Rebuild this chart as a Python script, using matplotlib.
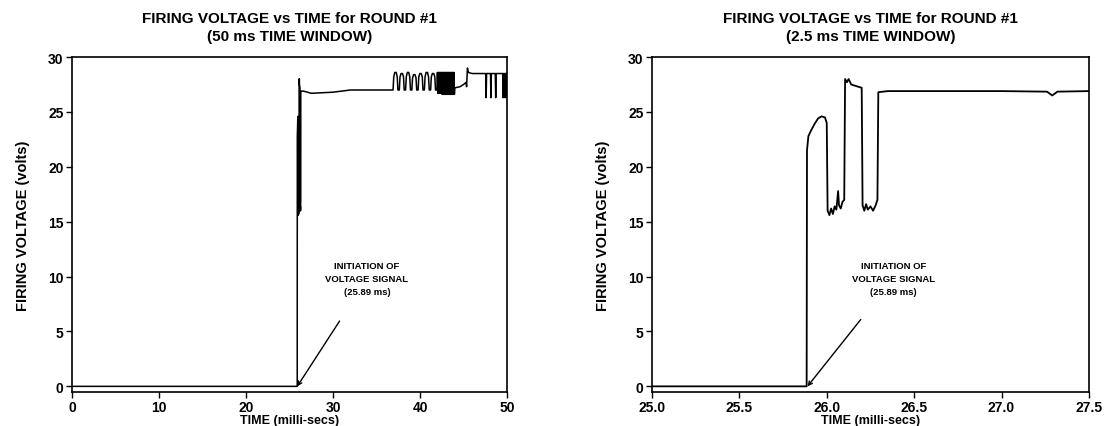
import matplotlib
matplotlib.use("Agg")
import matplotlib.pyplot as plt
import numpy as np

plt.rcParams['font.family'] = ['Liberation Sans', 'DejaVu Sans']
plt.rcParams['font.weight'] = 'bold'

# ---- data ----
# initiation and early transient (shared by both panels)
onset_t = [25.000, 25.885, 25.887, 25.895, 25.910, 25.930, 25.950, 25.970, 25.990, 26.000,
           26.005, 26.015, 26.025, 26.035, 26.045, 26.055, 26.065, 26.070, 26.080, 26.090,
           26.100, 26.105, 26.115, 26.125, 26.140, 26.160, 26.180, 26.200, 26.205, 26.215,
           26.225, 26.235, 26.250, 26.265, 26.280, 26.290, 26.295, 26.350]
onset_v = [0.0, 0.0, 21.5, 22.8, 23.3, 23.9, 24.4, 24.6, 24.5, 24.0,
           16.0, 15.6, 16.2, 15.7, 16.4, 16.1, 17.8, 16.5, 16.2, 16.8,
           17.0, 28.0, 27.7, 28.0, 27.5, 27.4, 27.3, 27.2, 16.5, 16.0,
           16.6, 16.1, 16.4, 16.0, 16.5, 17.0, 26.8, 26.9]

# steady level in the 2.5 ms window
steady_t = [26.60, 27.00, 27.26, 27.29, 27.32, 27.50]
steady_v = [26.9, 26.9, 26.85, 26.5, 26.85, 26.9]

# 50 ms window, after transient
plateau_t = [0.0, 25.885]
plateau_v = [0.0, 0.0]
flat_t = [26.6, 27.5, 30.0, 32.0, 36.90]
flat_v = [26.9, 26.7, 26.8, 27.0, 27.0]
ring_t = [36.98, 37.10, 37.26, 37.38, 37.46, 37.62, 37.70, 37.82, 37.98, 38.10, 38.18,
          38.34, 38.42, 38.54, 38.70, 38.82, 38.90, 39.06, 39.14, 39.26, 39.42, 39.54,
          39.62, 39.78, 39.86, 39.98, 40.14, 40.26, 40.34, 40.50, 40.58, 40.70, 40.86,
          40.98, 41.06, 41.22, 41.30, 41.42, 41.58, 41.70, 41.78, 41.95]
ring_v = [28.2, 28.6, 28.6, 28.2, 27.0, 27.0, 28.2, 28.5, 28.5, 28.2, 27.0,
          27.0, 28.2, 28.6, 28.6, 28.2, 27.0, 27.0, 28.1, 28.4, 28.4, 28.1,
          27.0, 27.0, 28.2, 28.5, 28.5, 28.2, 27.0, 27.0, 28.2, 28.6, 28.6,
          28.2, 27.0, 27.0, 28.2, 28.5, 28.5, 28.2, 27.0, 27.0]
dense_t = [42.00, 42.05, 42.10, 42.15, 42.20, 42.25, 42.30, 42.35, 42.40, 42.45,
           42.50, 42.55, 42.60, 42.65, 42.70, 42.75, 42.80, 42.85, 42.90, 42.95,
           43.00, 43.05, 43.10, 43.15, 43.20, 43.25, 43.30, 43.35, 43.40, 43.45,
           43.50, 43.55, 43.60, 43.65, 43.70, 43.75, 43.80, 43.85, 43.90, 43.95, 44.00]
dense_v = [28.6, 26.7, 28.6, 26.7, 28.6, 26.7, 28.6, 26.7, 28.6, 26.7,
           28.6, 26.6, 28.6, 26.6, 28.6, 26.6, 28.6, 26.6, 28.6, 26.6,
           28.6, 26.6, 28.6, 26.6, 28.6, 26.6, 28.6, 26.6, 28.6, 26.6,
           28.6, 26.6, 28.6, 26.6, 28.6, 26.6, 28.6, 26.6, 28.6, 26.6, 27.2]
tail_t = [44.6, 45.0, 45.30, 45.35, 45.45, 45.55, 46.0, 47.55, 47.60, 47.65,
          48.10, 48.15, 48.20, 48.65, 48.70, 48.75, 49.50, 49.55, 49.60,
          49.70, 49.75, 49.80, 49.90, 49.95, 50.0]
tail_v = [27.3, 27.5, 27.7, 27.3, 29.0, 28.6, 28.5, 28.5, 26.3, 28.5,
          28.5, 26.3, 28.5, 28.5, 26.3, 28.5, 28.5, 26.3, 28.5,
          28.5, 26.3, 28.5, 28.5, 26.3, 28.5]

left_t = plateau_t + onset_t[2:] + flat_t + ring_t + dense_t + tail_t
left_v = plateau_v + onset_v[2:] + flat_v + ring_v + dense_v + tail_v
right_t = onset_t + steady_t
right_v = onset_v + steady_v

left_xticks = [0, 10, 20, 30, 40, 50]
right_xticks = [25.0, 25.5, 26.0, 26.5, 27.0, 27.5]
yticks = [0, 5, 10, 15, 20, 25, 30]

titles = ["FIRING VOLTAGE vs TIME for ROUND #1\n(50 ms TIME WINDOW)",
          "FIRING VOLTAGE vs TIME for ROUND #1\n(2.5 ms TIME WINDOW)"]
note = "INITIATION OF\nVOLTAGE SIGNAL\n(25.89 ms)"
onset_time = 25.89

fig = plt.figure(figsize=(11.08, 4.27), dpi=100)
ax1 = fig.add_axes([0.065, 0.08, 0.3926, 0.784])
ax2 = fig.add_axes([0.5884, 0.08, 0.3944, 0.784])

ax1.plot(left_t, left_v, color='black', lw=1.1)
ax2.plot(right_t, right_v, color='black', lw=1.3)

for ax, xt, title in [(ax1, left_xticks, titles[0]), (ax2, right_xticks, titles[1])]:
    ax.set_xlim(xt[0], xt[-1])
    ax.set_ylim(-0.5, 30)
    ax.set_xticks(xt)
    ax.set_yticks(yticks)
    ax.tick_params(direction='out', length=4, width=1, labelsize=10, pad=2)
    for lab in ax.get_xticklabels() + ax.get_yticklabels():
        lab.set_fontweight('bold')
    for s in ax.spines.values():
        s.set_linewidth(1.2)
    ax.set_xlabel("TIME (milli-secs)", fontsize=9, fontweight='bold', labelpad=0)
    ax.set_ylabel("FIRING VOLTAGE (volts)", fontsize=10.5, fontweight='bold', labelpad=13)
    ax.set_title(title, fontsize=11, fontweight='bold', pad=12, linespacing=1.4)

ax2.set_xticklabels([f"{v:.1f}" for v in right_xticks])

ax1.annotate(note, xy=(onset_time, 0), xytext=(33.9, 9.8), ha='center', va='center',
             fontsize=6.8, fontweight='bold', linespacing=1.55,
             arrowprops=dict(arrowstyle='->', color='black', lw=1,
                             shrinkA=19, shrinkB=0))
ax2.annotate(note, xy=(onset_time, 0), xytext=(26.38, 9.8), ha='center', va='center',
             fontsize=6.8, fontweight='bold', linespacing=1.55,
             arrowprops=dict(arrowstyle='->', color='black', lw=1,
                             shrinkA=19, shrinkB=0))

fig.savefig("out.png", dpi=100)
